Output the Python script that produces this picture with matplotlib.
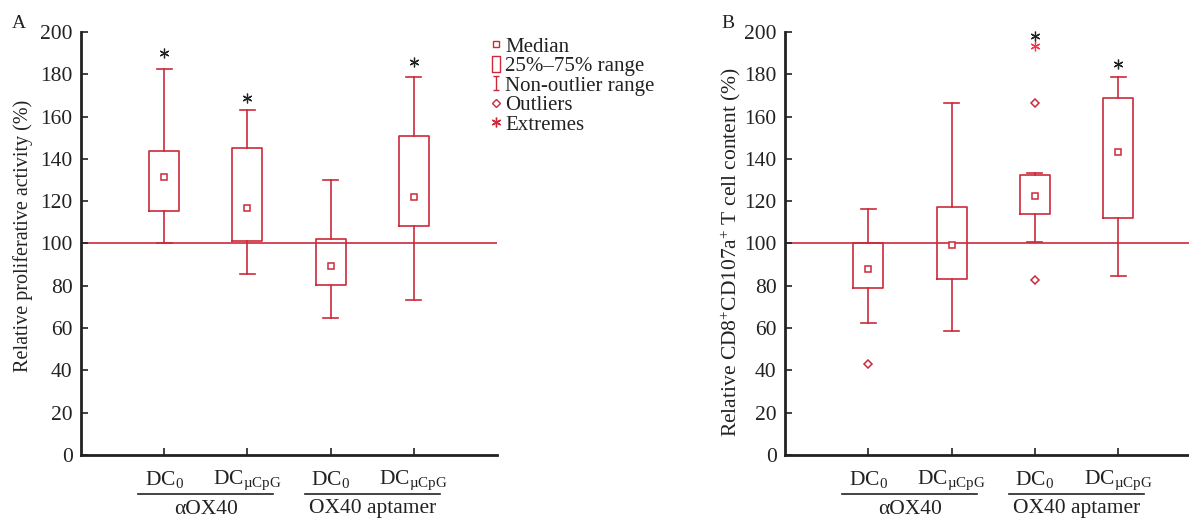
import matplotlib
matplotlib.use('Agg')
import matplotlib.pyplot as plt
from matplotlib.lines import Line2D
from matplotlib.path import Path

plt.rcParams['font.family'] = ['Liberation Serif', 'DejaVu Serif']
plt.rcParams['mathtext.fontset'] = 'custom'
plt.rcParams['mathtext.rm'] = 'Liberation Serif'
plt.rcParams['mathtext.it'] = 'Liberation Serif:italic'

# ---- data ----
tick_labels = [r'DC$_{\mathrm{0}}$', r'DC$_{\mathrm{µCpG}}$', r'DC$_{\mathrm{0}}$', r'DC$_{\mathrm{µCpG}}$']
groups = ['αOX40', 'OX40 aptamer']

# panel A: relative proliferative activity
a_whislo = [100.0, 85.4, 64.6, 73.1]
a_q1 = [115.5, 101.0, 80.2, 108.1]
a_med = [131.4, 117.0, 89.5, 121.8]
a_q3 = [143.6, 145.2, 102.0, 151.0]
a_whishi = [182.5, 163.0, 130.2, 178.6]
a_outliers = [[], [], [], []]
a_extremes = [[], [], [], []]
a_star = [190, 169, None, 186]   # significance asterisks

# panel B: relative CD8+CD107a+ T cell content
b_whislo = [62.4, 58.5, 100.6, 84.5]
b_q1 = [79.0, 83.4, 114.0, 111.9]
b_med = [88.1, 99.3, 122.3, 143.1]
b_q3 = [100.2, 117.1, 132.5, 168.6]
b_whishi = [116.5, 166.4, 133.5, 178.7]
b_outliers = [[43.0], [], [166.4, 82.7], []]
b_extremes = [[], [], [193.5], []]
b_star = [None, None, 198, 185]

legend_labels = ['Median', '25%–75% range', 'Non-outlier range', 'Outliers', 'Extremes']

RED = '#cc2a3a'
DARK = '#222222'
W, H = 1189, 519
STAR = (6, 2, 0)  # six-armed asterisk marker


def draw_panel(ax, whislo, q1, med, q3, whishi, outliers, extremes, stars, xmax):
  stats = []
  for i in range(4):
    stats.append(dict(whislo=whislo[i], q1=q1[i], med=med[i], q3=q3[i],
                      whishi=whishi[i], mean=med[i], fliers=outliers[i]))
  pos = [1, 2, 3, 4]
  ax.bxp(stats, positions=pos, widths=0.36, showmeans=True, capwidths=0.18,
         boxprops=dict(color=RED, lw=1.2),
         whiskerprops=dict(color=RED, lw=1.2),
         capprops=dict(color=RED, lw=1.2),
         medianprops=dict(visible=False),
         meanprops=dict(marker='s', markersize=4.5, markerfacecolor='white',
                        markeredgecolor=RED, markeredgewidth=1.1),
         flierprops=dict(marker='D', markersize=4.5, markerfacecolor='white',
                         markeredgecolor=RED, markeredgewidth=1.1))
  for i in range(4):
    for v in extremes[i]:
      ax.plot(pos[i], v, ls='none', marker=STAR, markersize=7, markeredgewidth=0.9,
              color='#ff3344', clip_on=False)
    if stars[i] is not None:
      ax.plot(pos[i], stars[i], ls='none', marker=STAR, markersize=7, markeredgewidth=0.9,
              color=DARK, clip_on=False)
  ax.axhline(100, color=RED, lw=1.2, zorder=0)
  ax.set_xlim(0, xmax)
  ax.set_ylim(0, 200)
  ax.set_yticks(range(0, 201, 20))
  ax.set_xticks(pos)
  ax.set_xticklabels(tick_labels)
  ax.tick_params(axis='both', direction='in', length=5, width=1.2, colors=DARK,
                 labelcolor=DARK, labelsize=15.5)
  ax.tick_params(axis='x', pad=10)
  ax.tick_params(axis='y', pad=6)
  for s in ['top', 'right']:
    ax.spines[s].set_visible(False)
  for s in ['left', 'bottom']:
    ax.spines[s].set_linewidth(2)
    ax.spines[s].set_color(DARK)
  # group brackets under the tick labels
  trans = ax.get_xaxis_transform()
  for (x0, x1), name in zip([(0.69, 2.31), (2.69, 4.31)], groups):
    ax.add_line(Line2D([x0, x1], [-39 / 423, -39 / 423], transform=trans, color=DARK,
                       lw=1.2, clip_on=False))
    ax.text((x0 + x1) / 2, -54 / 423, name, transform=trans, ha='center', va='center',
            fontsize=15.5, color=DARK)


fig = plt.figure(figsize=(W / 100, H / 100), dpi=100)
axA = fig.add_axes([81 / W, (H - 455) / H, (497 - 81) / W, 423 / H])
axB = fig.add_axes([785 / W, (H - 455) / H, (1189 - 785) / W, 423 / H])

draw_panel(axA, a_whislo, a_q1, a_med, a_q3, a_whishi, a_outliers, a_extremes, a_star, 5.0)
draw_panel(axB, b_whislo, b_q1, b_med, b_q3, b_whishi, b_outliers, b_extremes, b_star, 4.85)

axA.set_ylabel('Relative proliferative activity (%)', fontsize=14.5, color=DARK)
axA.yaxis.set_label_coords(-48 / 416, 0.517)
axB.set_ylabel(r'Relative CD8$^{+}$CD107a$^{+}$ T cell content (%)', fontsize=15.5,
               color=DARK)
axB.yaxis.set_label_coords(-42 / 404, 0.48)

fig.text(12 / W, 1 - 23 / H, 'A', fontsize=14, color=DARK, va='center')
fig.text(721 / W, 1 - 23 / H, 'B', fontsize=14, color=DARK, va='center')

# legend drawn by hand, one row per symbol
rect = Path([(-0.5, -1), (0.5, -1), (0.5, 1), (-0.5, 1), (-0.5, -1)],
            [Path.MOVETO, Path.LINETO, Path.LINETO, Path.LINETO, Path.CLOSEPOLY])
ibar = Path([(-0.5, 1), (0.5, 1), (0, 1), (0, -1), (-0.5, -1), (0.5, -1)],
            [Path.MOVETO, Path.LINETO, Path.MOVETO, Path.LINETO, Path.MOVETO, Path.LINETO])
leg_markers = [
  dict(marker='s', markersize=4.5, markerfacecolor='white'),
  dict(marker=rect, markersize=11, markerfacecolor='white'),
  dict(marker=ibar, markersize=10, markerfacecolor='none'),
  dict(marker='D', markersize=4.5, markerfacecolor='white'),
  dict(marker=STAR, markersize=7),
]
for k, (mk, lab) in enumerate(zip(leg_markers, legend_labels)):
  ypx = 44 + 19.5 * k
  fig.add_artist(Line2D([496 / W], [1 - ypx / H], ls='none', markeredgecolor=RED,
                        markeredgewidth=1.0, color=RED, transform=fig.transFigure, **mk))
  fig.text(505 / W, 1 - (ypx + 3) / H, lab, fontsize=15, color=DARK, va='center', ha='left')

plt.savefig('out.png', dpi=100)
plt.close()
